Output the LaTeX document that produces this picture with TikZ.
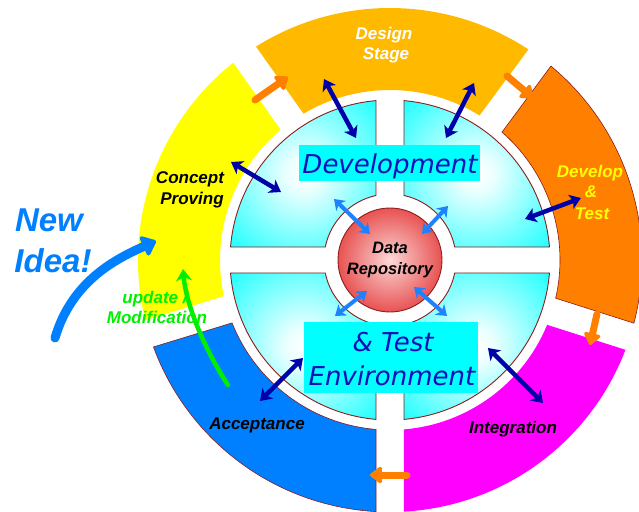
\documentclass[tikz,border=0pt]{standalone}
\usepackage{fontspec}
\setmainfont{Liberation Sans}
\newfontfamily\envfont{DejaVu Sans}
\usetikzlibrary{arrows.meta}

\definecolor{designgold}{HTML}{FFBA00}
\definecolor{devorange}{HTML}{FF8000}
\definecolor{integmag}{HTML}{FF00FF}
\definecolor{accblue}{HTML}{0080FF}
\definecolor{conceptyel}{HTML}{FFFF00}
\definecolor{rimbrown}{HTML}{8B1C1C}
\definecolor{linknavy}{HTML}{0000A8}
\definecolor{linkblue}{HTML}{1E82FF}
\definecolor{flowgreen}{HTML}{00F000}
\definecolor{envtext}{HTML}{1010B8}
\definecolor{reddisc}{HTML}{E63A3A}
\definecolor{boxcyan}{HTML}{00FFFF}

\pgfdeclareradialshading{quadshade}{\pgfpoint{0bp}{0bp}}{color(0bp)=(white); color(6bp)=(white!92!cyan); color(40bp)=(cyan); color(80bp)=(cyan)}
\pgfdeclareradialshading{repshade}{\pgfpoint{0bp}{0bp}}{color(0bp)=(white!85!red); color(9bp)=(white!55!reddisc); color(24bp)=(white!15!reddisc); color(34bp)=(reddisc); color(60bp)=(reddisc)}

\tikzset{
  quad/.style={shading=quadshade, draw=rimbrown, line width=0.9pt},
  rimmed/.style={draw=rimbrown, line width=0.6pt},
  navylink/.style={draw=linknavy, line width=4.5pt,
    {Stealth[length=11pt,width=15pt,inset=3pt]}-{Stealth[length=11pt,width=15pt,inset=3pt]}},
  bluelink/.style={draw=linkblue, line width=4pt,
    {Stealth[length=10pt,width=14pt,inset=3pt]}-{Stealth[length=10pt,width=14pt,inset=3pt]}},
  flowarrow/.style={draw=devorange, line width=7pt, line cap=round,
    -{Triangle[length=13pt,width=19pt,round]}},
  ideaarrow/.style={draw=accblue, line width=9pt, line cap=round,
    -{Triangle[length=15pt,width=24pt,round]}},
  feedback/.style={draw=flowgreen, line width=4.5pt, line cap=round,
    -{Stealth[length=12pt,width=16pt,inset=4pt]}},
  lbl/.style={font=\fontsize{17}{20}\selectfont\bfseries\itshape, anchor=base, inner sep=0pt},
  envlbl/.style={font=\envfont\fontsize{26}{30}\selectfont\itshape, text=envtext, anchor=base, inner sep=0pt},
  envbox/.style={fill=boxcyan, inner sep=0pt},
}

\begin{document}
\begin{tikzpicture}[x=1pt,y=1pt]
\useasboundingbox (-390,-251) rectangle (249,260);

% outer ring of stages
\fill[designgold] (56.68:252) arc[start angle=56.68,end angle=122.12,radius=252]
  -- (120.58:170) arc[start angle=120.58,end angle=58.22,radius=170] -- cycle;
\filldraw[fill=devorange, rimmed] (-14.52:252) arc[start angle=-14.52,end angle=50.32,radius=252]
  -- (48.78:170) arc[start angle=48.78,end angle=-12.98,radius=170] -- cycle;
\fill[integmag] (-86.82:252) arc[start angle=-86.82,end angle=-20.88,radius=252]
  -- (-22.42:170) arc[start angle=-22.42,end angle=-85.28,radius=170] -- cycle;
\filldraw[fill=accblue, rimmed] (200.18:252) arc[start angle=200.18,end angle=266.82,radius=252]
  -- (265.28:170) arc[start angle=265.28,end angle=201.72,radius=170] -- cycle;
\fill[conceptyel] (128.48:252) arc[start angle=128.48,end angle=193.82,radius=252]
  -- (192.28:170) arc[start angle=192.28,end angle=130.02,radius=170] -- cycle;

% inner quadrants of the environment
\shade[quad] (4.66:160) arc[start angle=4.66,end angle=84.98,radius=160]
  -- (77.75:66) arc[start angle=77.75,end angle=11.36,radius=66] -- cycle;
\shade[quad] (95.02:160) arc[start angle=95.02,end angle=175.34,radius=160]
  -- (168.64:66) arc[start angle=168.64,end angle=102.25,radius=66] -- cycle;
\shade[quad] (184.66:160) arc[start angle=184.66,end angle=264.98,radius=160]
  -- (257.75:66) arc[start angle=257.75,end angle=191.36,radius=66] -- cycle;
\shade[quad] (275.02:160) arc[start angle=275.02,end angle=355.34,radius=160]
  -- (348.64:66) arc[start angle=348.64,end angle=282.25,radius=66] -- cycle;

% central repository
\node[circle, minimum size=104pt, inner sep=0pt, shade, shading=repshade, draw=rimbrown, line width=0.9pt,
  font=\fontsize{16.5}{21}\selectfont\bfseries\itshape, align=center] (repo) at (0,0) {Data\\Repository};

% title boxes
\node[envbox, minimum width=181pt, minimum height=36pt] (devbox) at (-0.5,97) {};
\node[envlbl] (devtext) at (0,86) {Development};
\node[envbox, minimum width=174pt, minimum height=71pt] (envboxnode) at (1,-97.5) {};
\node[envlbl] (envtextA) at (3,-91) {\& Test};
\node[envlbl] (envtextB) at (2,-125) {Environment};

% stage labels
\node[lbl, text=white] (designA) at (-6,220) {Design};
\node[lbl, text=white] (designB) at (-4,200) {Stage};
\node[lbl, text=conceptyel] (developA) at (200,82) {Develop};
\node[lbl, text=conceptyel] (developB) at (201,62) {\&};
\node[lbl, text=conceptyel] (developC) at (202,40) {Test};
\node[lbl] (integ) at (123,-173) {Integration};
\node[lbl] (accept) at (-133,-169) {Acceptance};
\node[lbl] (conceptA) at (-200,76) {Concept};
\node[lbl] (conceptB) at (-198,56) {Proving};
\node[lbl, text=flowgreen] (updA) at (-235,-43) {update /};
\node[lbl, text=flowgreen] (updB) at (-233,-63) {Modification};
\node[lbl, text=accblue, font=\fontsize{33}{40}\selectfont\bfseries\itshape] (ideaA) at (-341,28) {New};
\node[lbl, text=accblue, font=\fontsize{33}{40}\selectfont\bfseries\itshape] (ideaB) at (-337,-12) {Idea!};

% connector end points
\coordinate (n1a) at (-159,98);  \coordinate (n1b) at (-109,68);
\coordinate (n2a) at (-66,181);  \coordinate (n2b) at (-34,122);
\coordinate (n3a) at (84,177);   \coordinate (n3b) at (56,122);
\coordinate (n4a) at (135,41);   \coordinate (n4b) at (191,62);
\coordinate (n5a) at (98,-88);   \coordinate (n5b) at (153,-143);
\coordinate (n6a) at (-87,-98);  \coordinate (n6b) at (-130,-141);
\coordinate (l1a) at (-56,61);   \coordinate (l1b) at (-20,26);
\coordinate (l2a) at (58,54);    \coordinate (l2b) at (32,26);
\coordinate (l3a) at (-23,-31);  \coordinate (l3b) at (-55,-56);
\coordinate (l4a) at (24,-27);   \coordinate (l4b) at (57,-56);
\coordinate (o1a) at (-135,160); \coordinate (o1b) at (-102,183);
\coordinate (o2a) at (117,184);  \coordinate (o2b) at (143,162);
\coordinate (o3a) at (207,-54);  \coordinate (o3b) at (200,-85);
\coordinate (o4a) at (17,-215);  \coordinate (o4b) at (-20,-215);
\coordinate (ideaStart) at (-335,-78); \coordinate (ideaEnd) at (-234,19);
\coordinate (fbStart) at (-162,-125);  \coordinate (fbEnd) at (-207,-9);

% stage-to-stage flow
\draw[flowarrow] (o1a) -- (o1b);
\draw[flowarrow] (o2a) -- (o2b);
\draw[flowarrow] (o3a) -- (o3b);
\draw[flowarrow] (o4a) -- (o4b);

% stage <-> environment links
\draw[navylink] (n1a) -- (n1b);
\draw[navylink] (n2a) -- (n2b);
\draw[navylink] (n3a) -- (n3b);
\draw[navylink] (n4a) -- (n4b);
\draw[navylink] (n5a) -- (n5b);
\draw[navylink] (n6a) -- (n6b);

% environment <-> repository links
\draw[bluelink] (l1a) -- (l1b);
\draw[bluelink] (l2a) -- (l2b);
\draw[bluelink] (l3a) -- (l3b);
\draw[bluelink] (l4a) -- (l4b);

% new idea entry and feedback loop
\draw[ideaarrow] (ideaStart) .. controls (-318,-20) and (-272,2) .. (ideaEnd);
\draw[feedback] (fbStart) .. controls (-185,-90) and (-204,-45) .. (fbEnd);
\end{tikzpicture}
\end{document}
